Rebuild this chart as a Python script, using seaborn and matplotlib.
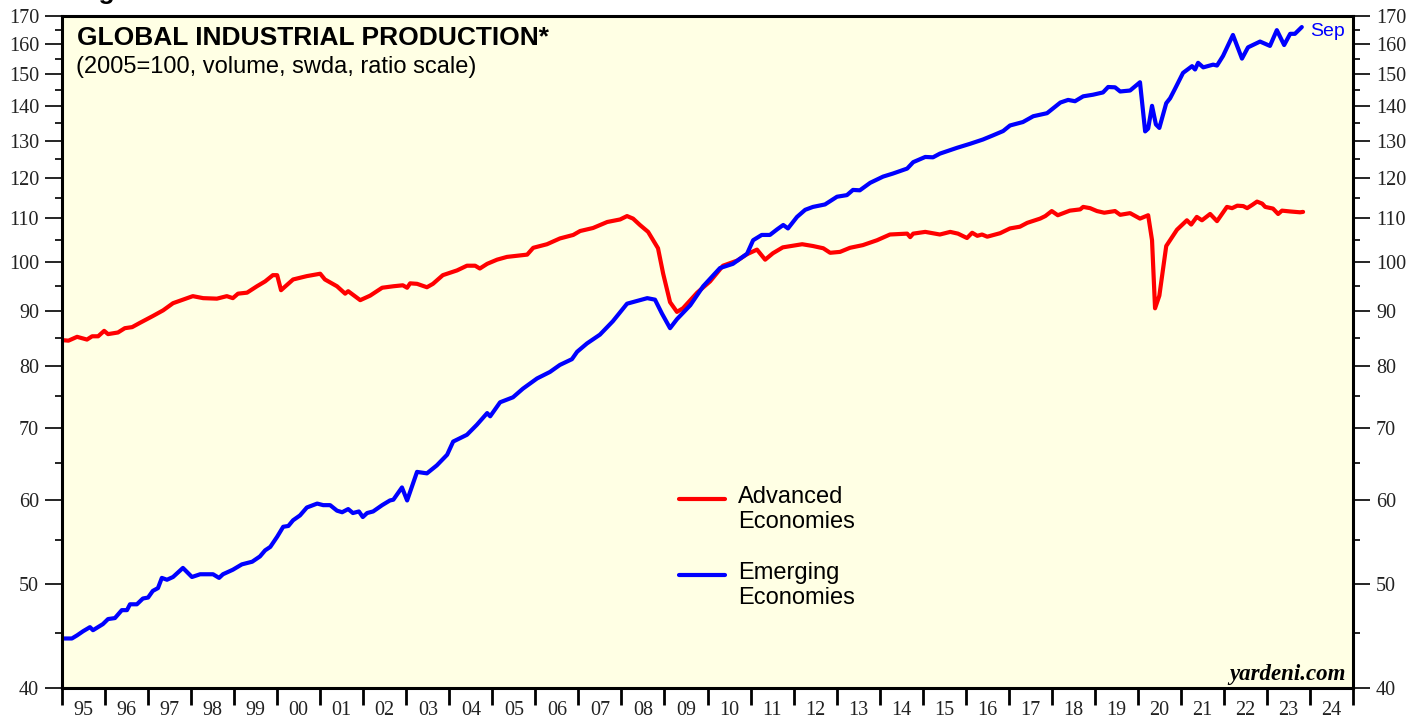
import numpy as np
import pandas as pd
import matplotlib
matplotlib.use("Agg")
import matplotlib.pyplot as plt
import seaborn as sns
from matplotlib.ticker import FixedLocator, NullFormatter
from matplotlib.legend_handler import HandlerLine2D

# ---------------- data ----------------
adv_year = [1995.00, 1995.15, 1995.35, 1995.58, 1995.70, 1995.84, 1995.98, 1996.07, 1996.30, 1996.46,
            1996.63, 1996.81, 1997.11, 1997.35, 1997.58, 1997.81, 1998.04, 1998.28, 1998.60, 1998.83,
            1998.97, 1999.09, 1999.30, 1999.53, 1999.72, 1999.90, 2000.00, 2000.09, 2000.37, 2000.69,
            2001.00, 2001.11, 2001.39, 2001.58, 2001.65, 2001.93, 2002.16, 2002.44, 2002.70, 2002.92,
            2003.02, 2003.09, 2003.25, 2003.48, 2003.62, 2003.85, 2004.18, 2004.41, 2004.60, 2004.71,
            2004.88, 2005.11, 2005.34, 2005.53, 2005.81, 2005.95, 2006.27, 2006.57, 2006.88, 2007.04,
            2007.34, 2007.67, 2007.97, 2008.13, 2008.27, 2008.43, 2008.62, 2008.85, 2008.97, 2009.13,
            2009.29, 2009.43, 2009.76, 2010.06, 2010.36, 2010.69, 2010.92, 2011.15, 2011.34, 2011.52,
            2011.75, 2012.20, 2012.45, 2012.69, 2012.85, 2013.08, 2013.31, 2013.61, 2013.94, 2014.24,
            2014.64, 2014.71, 2014.78, 2015.06, 2015.40, 2015.64, 2015.82, 2016.03, 2016.15, 2016.27,
            2016.38, 2016.50, 2016.80, 2017.03, 2017.26, 2017.43, 2017.73, 2017.85, 2018.00, 2018.14,
            2018.42, 2018.66, 2018.73, 2018.89, 2019.05, 2019.22, 2019.47, 2019.59, 2019.82, 2020.05,
            2020.24, 2020.33, 2020.40, 2020.50, 2020.66, 2020.91, 2021.14, 2021.24, 2021.37, 2021.49,
            2021.68, 2021.84, 2022.07, 2022.19, 2022.31, 2022.45, 2022.54, 2022.66, 2022.77, 2022.89,
            2022.96, 2023.14, 2023.26, 2023.35, 2023.54, 2023.77, 2023.84]
adv_val = [84.6, 84.5, 85.2, 84.7, 85.3, 85.3, 86.3, 85.7, 86.0, 86.8,
           87.0, 87.8, 89.1, 90.2, 91.6, 92.3, 93.0, 92.6, 92.5, 93.0,
           92.6, 93.5, 93.7, 95.0, 96.0, 97.3, 97.3, 94.2, 96.4, 97.1,
           97.6, 96.4, 95.0, 93.5, 94.0, 92.2, 93.1, 94.7, 95.0, 95.2,
           94.7, 95.6, 95.5, 94.8, 95.5, 97.3, 98.3, 99.3, 99.3, 98.7,
           99.7, 100.6, 101.2, 101.4, 101.7, 103.2, 104.0, 105.3, 106.1, 107.0,
           107.7, 109.1, 109.7, 110.5, 109.9, 108.4, 106.8, 103.1, 97.6, 91.8,
           89.9, 90.6, 93.7, 96.0, 99.3, 100.4, 101.8, 102.8, 100.6, 102.0,
           103.3, 104.0, 103.6, 103.1, 102.1, 102.3, 103.2, 103.8, 104.9, 106.2,
           106.4, 105.6, 106.4, 106.8, 106.2, 106.8, 106.4, 105.4, 106.6, 105.9,
           106.2, 105.7, 106.5, 107.6, 108.0, 108.9, 109.9, 110.5, 111.7, 110.7,
           111.8, 112.1, 112.7, 112.4, 111.7, 111.3, 111.7, 110.8, 111.2, 109.9,
           110.7, 104.9, 90.6, 93.1, 103.6, 107.3, 109.5, 108.5, 110.3, 109.5,
           111.0, 109.3, 112.7, 112.4, 113.0, 112.9, 112.4, 113.2, 114.0, 113.5,
           112.7, 112.3, 111.0, 111.8, 111.6, 111.4, 111.5]

emg_year = [1995.00, 1995.23, 1995.35, 1995.49, 1995.65, 1995.72, 1995.95, 1996.07, 1996.23, 1996.39,
            1996.51, 1996.58, 1996.74, 1996.88, 1997.00, 1997.11, 1997.23, 1997.32, 1997.44, 1997.58,
            1997.81, 1998.02, 1998.21, 1998.51, 1998.65, 1998.74, 1998.97, 1999.18, 1999.42, 1999.60,
            1999.72, 1999.84, 2000.00, 2000.14, 2000.26, 2000.37, 2000.53, 2000.69, 2000.93, 2001.07,
            2001.23, 2001.39, 2001.51, 2001.65, 2001.76, 2001.90, 2001.99, 2002.09, 2002.23, 2002.44,
            2002.62, 2002.70, 2002.90, 2003.02, 2003.25, 2003.48, 2003.71, 2003.95, 2004.09, 2004.41,
            2004.64, 2004.88, 2004.95, 2005.18, 2005.48, 2005.71, 2006.04, 2006.34, 2006.57, 2006.85,
            2006.97, 2007.20, 2007.50, 2007.80, 2008.13, 2008.43, 2008.60, 2008.78, 2008.94, 2009.13,
            2009.29, 2009.60, 2009.90, 2010.29, 2010.59, 2010.92, 2011.06, 2011.26, 2011.45, 2011.62,
            2011.76, 2011.87, 2012.08, 2012.27, 2012.45, 2012.73, 2013.01, 2013.24, 2013.38, 2013.54,
            2013.78, 2014.08, 2014.31, 2014.64, 2014.78, 2015.06, 2015.24, 2015.40, 2015.80, 2016.10,
            2016.40, 2016.64, 2016.87, 2017.03, 2017.33, 2017.57, 2017.89, 2018.20, 2018.38, 2018.54,
            2018.73, 2018.96, 2019.19, 2019.31, 2019.47, 2019.59, 2019.82, 2020.05, 2020.17, 2020.24,
            2020.33, 2020.42, 2020.50, 2020.66, 2020.75, 2020.87, 2021.05, 2021.26, 2021.33, 2021.40,
            2021.52, 2021.75, 2021.84, 2021.98, 2022.21, 2022.42, 2022.56, 2022.84, 2023.07, 2023.23,
            2023.40, 2023.54, 2023.65, 2023.81]
emg_val = [44.5, 44.5, 44.8, 45.2, 45.6, 45.3, 45.9, 46.4, 46.5, 47.3,
           47.3, 47.9, 47.9, 48.5, 48.6, 49.3, 49.6, 50.7, 50.5, 50.8,
           51.8, 50.8, 51.1, 51.1, 50.7, 51.1, 51.6, 52.2, 52.5, 53.1,
           53.8, 54.2, 55.4, 56.6, 56.7, 57.4, 58.0, 59.0, 59.5, 59.3,
           59.3, 58.6, 58.4, 58.8, 58.3, 58.5, 57.8, 58.3, 58.5, 59.3,
           59.9, 60.0, 61.6, 59.9, 63.7, 63.5, 64.6, 66.1, 68.0, 69.0,
           70.5, 72.3, 71.8, 74.0, 74.8, 76.2, 77.9, 79.0, 80.2, 81.2,
           82.5, 84.0, 85.6, 88.1, 91.5, 92.2, 92.6, 92.3, 89.6, 86.8,
           88.5, 91.2, 95.0, 98.8, 99.7, 101.9, 104.9, 106.1, 106.1, 107.4,
           108.4, 107.6, 110.3, 112.0, 112.7, 113.3, 115.2, 115.6, 116.9, 116.8,
           118.7, 120.3, 121.1, 122.4, 124.1, 125.5, 125.4, 126.4, 128.0, 129.1,
           130.3, 131.5, 132.7, 134.3, 135.3, 137.0, 137.9, 141.1, 141.9, 141.5,
           143.0, 143.5, 144.2, 145.9, 145.8, 144.5, 144.8, 147.4, 132.6, 133.4,
           140.1, 134.6, 133.6, 140.9, 142.4, 145.5, 150.4, 152.6, 151.5, 153.7,
           152.2, 153.1, 152.8, 156.0, 163.2, 155.1, 158.9, 160.9, 159.4, 164.9,
           159.7, 163.6, 163.6, 166.0]

series_names = ["Advanced\nEconomies", "Emerging\nEconomies"]
series_colors = ["#FF0000", "#0000FF"]
y_major = [40, 50, 60, 70, 80, 90, 100, 110, 120, 130, 140, 150, 160, 170]
y_minor = [45, 55, 65, 75, 85, 95, 105, 115, 125, 135, 145, 155, 165]
year_start, year_end = 1995, 2025
x_labels = ["95", "96", "97", "98", "99", "00", "01", "02", "03", "04", "05", "06", "07", "08", "09",
            "10", "11", "12", "13", "14", "15", "16", "17", "18", "19", "20", "21", "22", "23", "24"]
title = "GLOBAL INDUSTRIAL PRODUCTION*"
subtitle = "(2005=100, volume, swda, ratio scale)"
last_label = "Sep"

# ---------------- build frame ----------------
df = pd.concat([
    pd.DataFrame({"year": adv_year, "value": adv_val, "series": series_names[0]}),
    pd.DataFrame({"year": emg_year, "value": emg_val, "series": series_names[1]}),
], ignore_index=True)

sns.set_style("ticks")
plt.rcParams["font.family"] = ["Liberation Sans", "DejaVu Sans"]

W, H = 1427, 719
L, R, T, B = 62, 1353, 16, 688
fig = plt.figure(figsize=(W / 100, H / 100), dpi=100)
fig.patch.set_facecolor("white")
ax = fig.add_axes([L / W, 1 - B / H, (R - L) / W, (B - T) / H])
ax.set_facecolor("#FFFFE4")

sns.lineplot(data=df, x="year", y="value", hue="series", hue_order=series_names,
             palette=series_colors, linewidth=3.0, estimator=None, sort=False,
             legend=False, ax=ax)
for ln in ax.lines:
    ln.set_solid_joinstyle("round")
    ln.set_solid_capstyle("round")

ax.set_yscale("log")
ax.set_ylim(40, 170)
ax.set_xlim(year_start, year_end)
ax.set_xlabel("")
ax.set_ylabel("")

# y ticks on both sides
ax.yaxis.set_major_locator(FixedLocator(y_major))
ax.yaxis.set_minor_locator(FixedLocator(y_minor))
ax.set_yticklabels([str(v) for v in y_major])
ax.yaxis.set_minor_formatter(NullFormatter())
ax.tick_params(axis="y", which="both", left=True, right=True, labelleft=True, labelright=True,
               direction="out", colors="black", labelcolor="#222222")
ax.tick_params(axis="y", which="major", length=12, width=1.2, pad=4.5)
ax.tick_params(axis="y", which="minor", length=5, width=1.2)
for lab in ax.get_yticklabels():
    lab.set_fontfamily("Liberation Serif")
    lab.set_fontsize(14.5)

# x ticks: year boundaries (major), labels at mid-year (minor)
years = np.arange(year_start, year_end + 1)
ax.xaxis.set_major_locator(FixedLocator(years))
ax.xaxis.set_major_formatter(NullFormatter())
ax.set_xticks(years[:-1] + 0.5, labels=x_labels, minor=True)
ax.tick_params(axis="x", which="major", direction="out", length=12, width=2.0, color="black")
ax.tick_params(axis="x", which="minor", length=0, pad=9.5, labelcolor="#222222")
for lab in ax.get_xticklabels(minor=True):
    lab.set_fontfamily("Liberation Serif")
    lab.set_fontsize(14.5)

for sp in ax.spines.values():
    sp.set_visible(True)
    sp.set_color("black")
    sp.set_linewidth(2.2)


def ax_xy(px, py):
    """pixel position in the figure -> axes fraction"""
    return (px - L) / (R - L), (B - py) / (B - T)


# titles
ax.text(*ax_xy(77, 45), title, transform=ax.transAxes, fontsize=19,
        fontweight="bold", va="baseline", ha="left", color="black")
ax.text(*ax_xy(76, 73), subtitle, transform=ax.transAxes, fontsize=17,
        va="baseline", ha="left", color="black")
# figure caption that is cut off at the top edge in the reference
fig.text(75 / W, 1.0 + 1 / H, "Figure 1", fontsize=19, fontweight="bold",
         va="baseline", ha="left", color="black")

# watermark
ax.text(*ax_xy(1346, 680), "yardeni.com", transform=ax.transAxes, fontsize=16.5,
        fontfamily="Liberation Serif", fontweight="bold", fontstyle="italic",
        ha="right", va="baseline", color="black")

# last-month label
ax.annotate(last_label, xy=(emg_year[-1], emg_val[-1]), xytext=(6, -3),
            textcoords="offset points", fontsize=14, color="#0000FF", va="center", ha="left")


# legend with the sample line level with the first text line
class TopLine(HandlerLine2D):
    def create_artists(self, legend, orig_handle, xdescent, ydescent, width, height, fontsize, trans):
        arts = super().create_artists(legend, orig_handle, xdescent, ydescent, width, height,
                                      fontsize, trans)
        for a in arts:
            a.set_ydata(np.asarray(a.get_ydata(), dtype=float) + 0.47 * fontsize)
        return arts


leg = ax.legend(handles=ax.lines[:2], labels=series_names, loc="upper left",
                bbox_to_anchor=ax_xy(679, 486), frameon=False, fontsize=17,
                handlelength=1.95, handletextpad=0.55, labelspacing=1.25,
                borderpad=0, borderaxespad=0,
                handler_map={ln: TopLine() for ln in ax.lines[:2]})
for t in leg.get_texts():
    t.set_linespacing(1.17)
    t.set_color("black")
for h in leg.get_lines():
    h.set_linewidth(3.0)

fig.savefig("out.png", dpi=100, facecolor="white")
